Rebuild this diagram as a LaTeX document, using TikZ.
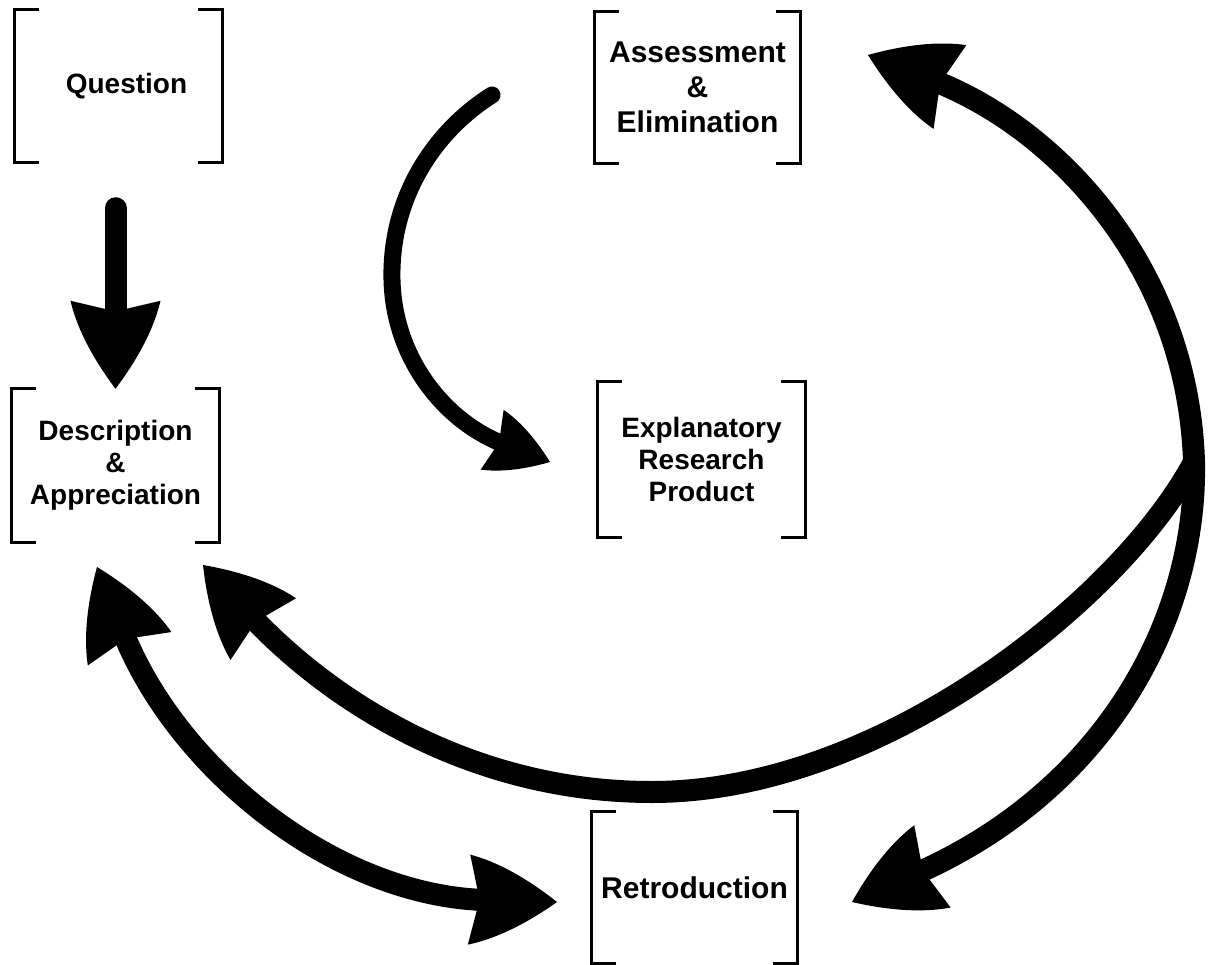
\documentclass[tikz,border=0pt]{standalone}
\usepackage{fontspec}
\setmainfont{Liberation Sans}
\usetikzlibrary{arrows.meta}

% barbed arrow head with slightly bulging sides
\pgfdeclarearrow{
  name = Barb,
  parameters = {\the\pgfarrowlength,\the\pgfarrowwidth},
  setup code = {
    \pgfarrowssettipend{0pt}
    \pgfarrowssetlineend{-0.8\pgfarrowlength}
    \pgfarrowssetbackend{-\pgfarrowlength}
    \pgfarrowssavethe\pgfarrowlength
    \pgfarrowssavethe\pgfarrowwidth
  },
  drawing code = {
    \pgfpathmoveto{\pgfqpoint{0pt}{0pt}}
    \pgfpathcurveto{\pgfqpoint{-0.3\pgfarrowlength}{0.22\pgfarrowwidth}}
                   {\pgfqpoint{-0.65\pgfarrowlength}{0.42\pgfarrowwidth}}
                   {\pgfqpoint{-\pgfarrowlength}{0.5\pgfarrowwidth}}
    \pgfpathlineto{\pgfqpoint{-0.88\pgfarrowlength}{0pt}}
    \pgfpathlineto{\pgfqpoint{-\pgfarrowlength}{-0.5\pgfarrowwidth}}
    \pgfpathcurveto{\pgfqpoint{-0.65\pgfarrowlength}{-0.42\pgfarrowwidth}}
                   {\pgfqpoint{-0.3\pgfarrowlength}{-0.22\pgfarrowwidth}}
                   {\pgfqpoint{0pt}{0pt}}
    \pgfpathclose
    \pgfusepathqfill
  },
  defaults = {length=88pt, width=90pt}
}

\begin{document}
\begin{tikzpicture}[x=1pt, y=-1pt,
  stage/.style={inner sep=0pt, align=center,
    font=\bfseries\fontsize{28}{32}\selectfont},
  bigstage/.style={stage, font=\bfseries\fontsize{30}{35}\selectfont},
  brk/.style={line width=3pt, line cap=butt, line join=miter},
  head/.tip={Barb[length=88pt, width=90pt]},
  smallhead/.tip={Barb[length=62pt, width=64pt]},
  flow/.style={line width=22pt, -head},
  flowboth/.style={line width=22pt, head-head},
  thinflow/.style={line width=17pt, line cap=round, -smallhead}
]
\useasboundingbox[fill=white] (0,0) rectangle (1212,965);

% stages of the research process
\node[stage, minimum width=207pt, minimum height=152pt] (q) at (118.5,86) {\hspace*{16pt}Question};
\node[bigstage, minimum width=205pt, minimum height=151pt] (a) at (697.5,87.5) {Assessment\\\&\\Elimination};
\node[stage, minimum width=207pt, minimum height=153pt] (d) at (115.5,465.5) {Description\\\&\\Appreciation};
\node[stage, minimum width=207pt, minimum height=155pt] (e) at (701.5,459.5) {Explanatory\\Research\\Product};
\node[bigstage, minimum width=205pt, minimum height=151pt] (r) at (694.5,887.5) {Retroduction};

% square brackets around every stage
\foreach \n in {q,a,d,e,r}{
  \draw[brk] ([xshift=24pt]\n.north west) -- (\n.north west) -- (\n.south west) -- ([xshift=24pt]\n.south west);
  \draw[brk] ([xshift=-24pt]\n.north east) -- (\n.north east) -- (\n.south east) -- ([xshift=-24pt]\n.south east);
}

% arrow ends
\coordinate (qd) at ([yshift=-46pt]q.south);
\coordinate (hub) at (1194,462);
\coordinate (tipA) at (868,55);
\coordinate (tipR1) at (852,902);
\coordinate (tipD1) at (203,565);
\coordinate (tipD2) at (97,567);
\coordinate (tipR2) at (557,902);
\coordinate (tailE) at (492,95);
\coordinate (tipE) at (550,462);

% Question -> Description
\draw[flow, line cap=round] (qd -| d.north) -- (d.north);

% Assessment -> Explanatory Research Product
\draw[thinflow] (tailE) .. controls (432,133) and (390,200) .. (392,280)
  .. controls (394,360) and (446,422) .. (tipE);

% Assessment <-> Retroduction along the right side
\draw[flowboth] (tipA) .. controls (1060,130) and (1188,270) .. (hub)
  .. controls (1197,620) and (1105,790) .. (tipR1);

% branch back to Description
\draw[flow] (hub) .. controls (1120,600) and (880,792) .. (652,792)
  .. controls (470,792) and (330,700) .. (tipD1);

% Description <-> Retroduction
\draw[flowboth] (tipD2) .. controls (178,770) and (335,896) .. (tipR2);
\end{tikzpicture}
\end{document}
